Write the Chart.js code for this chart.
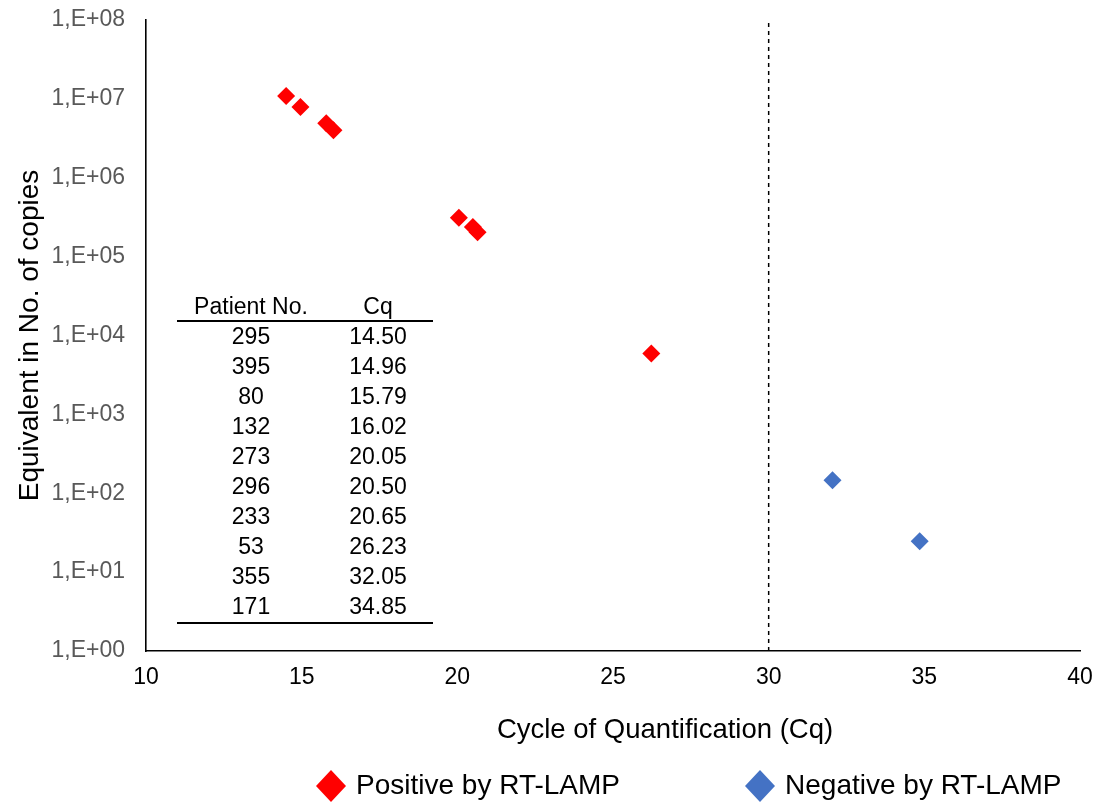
<!DOCTYPE html>
<html>
<head>
<meta charset="utf-8">
<script src="https://cdn.jsdelivr.net/npm/chart.js@4.4.1/dist/chart.umd.min.js"></script>
<style>
  html, body { margin: 0; padding: 0; background: #ffffff; }
  #wrap { width: 1096px; height: 805px; }
</style>
</head>
<body>
<div id="wrap"><canvas id="chart" width="1096" height="805"></canvas></div>
<script>
// Patient samples: Cq from RT-qPCR and the equivalent copy number
const patientNos  = ['295', '395', '80', '132', '273', '296', '233', '53', '355', '171'];
const cqValues    = [14.50, 14.96, 15.79, 16.02, 20.05, 20.50, 20.65, 26.23, 32.05, 34.85];
const copyNumbers = [1.09e7, 7.9e6, 4.9e6, 4.0e6, 3.1e5, 2.37e5, 2.04e5, 5.9e3, 146, 24.6];
const lampResult  = ['pos', 'pos', 'pos', 'pos', 'pos', 'pos', 'pos', 'pos', 'neg', 'neg'];

const seriesKeys   = ['pos', 'neg'];
const seriesLabels = ['Positive by RT-LAMP', 'Negative by RT-LAMP'];
const seriesColors = ['#FF0000', '#4472C4'];

const cqCutoff = 30;

const xTickValues = [10, 15, 20, 25, 30, 35, 40];
const yTickValues = [1, 10, 100, 1e3, 1e4, 1e5, 1e6, 1e7, 1e8];
const yTickLabels = ['1,E+00', '1,E+01', '1,E+02', '1,E+03', '1,E+04', '1,E+05', '1,E+06', '1,E+07', '1,E+08'];

const xTitle = 'Cycle of Quantification (Cq)';
const yTitle = 'Equivalent in No. of copies';
const tableHeaders = ['Patient No.', 'Cq'];

const FONT = '"Liberation Sans", Arial, sans-serif';

const seriesData = seriesKeys.map(k =>
  cqValues.map((cq, i) => ({ x: cq, y: copyNumbers[i], r: lampResult[i] }))
          .filter(p => p.r === k)
          .map(p => ({ x: p.x, y: p.y }))
);

// Patient table drawn inside the plot area
const tablePlugin = {
  id: 'patientTable',
  afterDraw(chart) {
    const ctx = chart.ctx;
    const left = 177, right = 433;
    const col1 = 251, col2 = 378;
    const headerY = 308, firstRowY = 338, rowStep = 30;
    const topLineY = 321, bottomLineY = 623;
    ctx.save();
    ctx.fillStyle = '#000';
    ctx.font = '23px ' + FONT;
    ctx.textAlign = 'center';
    ctx.textBaseline = 'middle';
    ctx.fillText(tableHeaders[0], col1, headerY);
    ctx.fillText(tableHeaders[1], col2, headerY);
    patientNos.forEach((p, i) => {
      const y = firstRowY + i * rowStep;
      ctx.fillText(p, col1, y);
      ctx.fillText(cqValues[i].toFixed(2), col2, y);
    });
    ctx.strokeStyle = '#000';
    ctx.lineWidth = 1.8;
    ctx.beginPath();
    ctx.moveTo(left, topLineY); ctx.lineTo(right, topLineY);
    ctx.moveTo(left, bottomLineY); ctx.lineTo(right, bottomLineY);
    ctx.stroke();
    ctx.restore();
  }
};

// X-axis title and legend row below the plot
const bottomTextPlugin = {
  id: 'bottomText',
  afterDraw(chart) {
    const ctx = chart.ctx;
    ctx.save();
    ctx.fillStyle = '#000';
    ctx.font = '27.5px ' + FONT;
    ctx.textAlign = 'center';
    ctx.textBaseline = 'middle';
    ctx.fillText(xTitle, 665, 730);

    const y = 786, r = 15, textGap = 10, itemGap = 125;
    let x = 316;
    ctx.font = '28px ' + FONT;
    ctx.textAlign = 'left';
    seriesLabels.forEach((lab, i) => {
      const cx = x + r;
      ctx.fillStyle = seriesColors[i];
      ctx.beginPath();
      ctx.moveTo(cx - r, y);
      ctx.lineTo(cx, y - r - 1);
      ctx.lineTo(cx + r, y);
      ctx.lineTo(cx, y + r + 1);
      ctx.closePath();
      ctx.fill();
      ctx.fillStyle = '#000';
      ctx.fillText(lab, x + 2 * r + textGap, y);
      x += 2 * r + textGap + ctx.measureText(lab).width + itemGap;
    });
    ctx.restore();
  }
};

const datasets = seriesData.map((d, i) => ({
  label: seriesLabels[i],
  data: d,
  pointStyle: 'rectRot',
  pointRadius: 9,
  pointHoverRadius: 9,
  backgroundColor: seriesColors[i],
  borderColor: seriesColors[i],
  borderWidth: 0
}));

datasets.push({
  type: 'line',
  label: 'cutoff',
  data: [{ x: cqCutoff, y: yTickValues[0] }, { x: cqCutoff, y: yTickValues[yTickValues.length - 1] }],
  borderColor: '#000',
  borderWidth: 1.5,
  borderDash: [4, 4],
  pointRadius: 0,
  fill: false,
  order: 5
});

new Chart(document.getElementById('chart'), {
  type: 'scatter',
  data: { datasets },
  options: {
    responsive: false,
    animation: false,
    devicePixelRatio: 1,
    layout: { padding: { top: 20, right: 16, left: 0, bottom: 0 } },
    plugins: {
      legend: { display: false },
      tooltip: { enabled: false }
    },
    scales: {
      x: {
        type: 'linear',
        min: xTickValues[0],
        max: xTickValues[xTickValues.length - 1],
        afterBuildTicks: s => { s.ticks = xTickValues.map(v => ({ value: v })); },
        afterFit: s => { s.height = 154; s.paddingLeft = 0; s.paddingRight = 0; },
        grid: { display: false, drawTicks: false },
        border: { display: true, color: '#000', width: 1.6 },
        ticks: { color: '#000', font: { family: FONT, size: 23 }, padding: 13, callback: v => String(v) },
        title: { display: false }
      },
      y: {
        type: 'logarithmic',
        min: yTickValues[0],
        max: yTickValues[yTickValues.length - 1],
        afterBuildTicks: s => { s.ticks = yTickValues.map(v => ({ value: v })); },
        afterFit: s => { s.width = 146; s.paddingTop = 0; s.paddingBottom = 0; },
        grid: { display: false, drawTicks: false },
        border: { display: true, color: '#000', width: 1.6 },
        ticks: {
          color: '#595959',
          font: { family: FONT, size: 23 },
          padding: 21,
          callback: (v) => { const k = yTickValues.indexOf(v); return k >= 0 ? yTickLabels[k] : ''; }
        },
        title: { display: true, text: yTitle, color: '#000', font: { family: FONT, size: 28 }, padding: { top: 13, bottom: 0 } }
      }
    }
  },
  plugins: [tablePlugin, bottomTextPlugin]
});
</script>
</body>
</html>
